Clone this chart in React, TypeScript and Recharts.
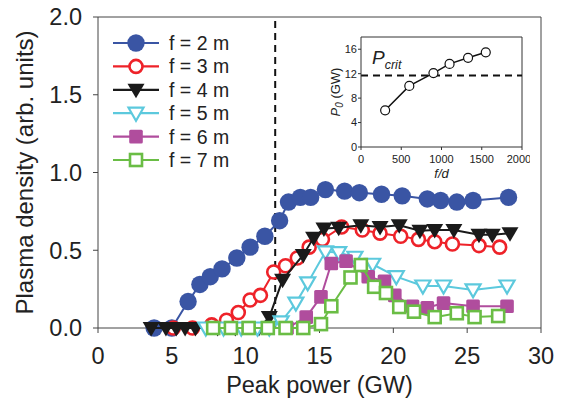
import React from "react";
import {
  ScatterChart,
  Scatter,
  XAxis,
  YAxis,
  ReferenceLine,
  LineChart,
  Line,
} from "recharts";

const FONT = '"Liberation Sans", Arial, Helvetica, sans-serif';
const INK = "#222";

// plasma density vs peak power, one list pair per focal length
const f2X = [3.8, 5.0, 6.1, 6.9, 7.6, 8.4, 9.4, 10.3, 11.3, 12.3, 12.9, 13.7, 14.4, 15.4, 16.7, 17.7, 19.2, 20.6, 22.3, 23.2, 24.3, 25.4, 27.8];
const f2Y = [0, 0, 0.17, 0.28, 0.33, 0.38, 0.45, 0.52, 0.59, 0.69, 0.81, 0.84, 0.84, 0.89, 0.88, 0.87, 0.86, 0.85, 0.83, 0.82, 0.81, 0.82, 0.84];

const f3X = [5.1, 6.4, 7.7, 8.7, 9.5, 10.3, 11.0, 11.9, 12.7, 13.5, 14.3, 15.2, 16.5, 17.9, 19.1, 20.5, 21.7, 22.8, 24.0, 25.8, 27.2];
const f3Y = [0, 0, 0.02, 0.05, 0.1, 0.18, 0.21, 0.36, 0.4, 0.45, 0.52, 0.57, 0.65, 0.63, 0.61, 0.59, 0.57, 0.555, 0.54, 0.53, 0.52];

const f4X = [3.6, 4.6, 5.3, 5.9, 6.6, 8.1, 9.3, 10.9, 11.6, 12.5, 13.9, 14.6, 15.3, 16.3, 17.8, 19.1, 20.4, 21.8, 22.8, 24.1, 25.8, 26.7, 27.9];
const f4Y = [0, 0, 0, 0, 0, 0, 0, 0, 0.07, 0.31, 0.47, 0.58, 0.64, 0.645, 0.66, 0.65, 0.66, 0.625, 0.63, 0.63, 0.6, 0.6, 0.61];

const f5X = [7.3, 8.5, 9.7, 10.8, 11.6, 12.4, 13.4, 14.2, 15.4, 16.3, 17.4, 18.6, 20.2, 22.0, 23.4, 25.4, 27.7];
const f5Y = [0, 0, 0, 0, 0, 0.04, 0.16, 0.29, 0.49, 0.485, 0.455, 0.41, 0.33, 0.27, 0.27, 0.245, 0.27];

const f6X = [10.2, 11.5, 12.8, 14.1, 15.1, 15.8, 16.8, 18.3, 19.4, 20.1, 21.3, 22.3, 23.4, 25.4, 27.7];
const f6Y = [0, 0, 0, 0.07, 0.2, 0.415, 0.43, 0.33, 0.3, 0.21, 0.14, 0.13, 0.16, 0.14, 0.14];

const f7X = [7.8, 9.0, 10.2, 11.5, 12.7, 13.9, 15.1, 15.8, 17.1, 17.8, 18.7, 19.5, 20.4, 21.4, 22.8, 24.3, 25.5, 27.1];
const f7Y = [0, 0, 0, 0, 0, 0, 0.025, 0.14, 0.325, 0.405, 0.265, 0.225, 0.135, 0.105, 0.07, 0.095, 0.07, 0.077];

const xTicks = [0, 5, 10, 15, 20, 25, 30];
const yTicks = [0, 0.5, 1, 1.5, 2];
const pCritPower = 12;

// inset: threshold power vs f/d
const fdVals = [300, 600, 900, 1100, 1330, 1550];
const p0Vals = [6, 10, 12.1, 13.6, 14.6, 15.5];
const pCritInset = 11.7;
const insetXTicks = [0, 500, 1000, 1500, 2000];
const insetYTicks = [0, 4, 8, 12, 16];

const zip = (xs: number[], ys: number[]) => xs.map((x, i) => ({ x, y: ys[i] }));

type Kind = "dot" | "ring" | "tri" | "triOpen" | "sq" | "sqOpen";

const SERIES: { name: string; color: string; kind: Kind; data: { x: number; y: number }[] }[] = [
  { name: "f = 2 m", color: "#3a55a4", kind: "dot", data: zip(f2X, f2Y) },
  { name: "f = 3 m", color: "#ee2229", kind: "ring", data: zip(f3X, f3Y) },
  { name: "f = 4 m", color: "#1a1a1a", kind: "tri", data: zip(f4X, f4Y) },
  { name: "f = 5 m", color: "#5cc9dd", kind: "triOpen", data: zip(f5X, f5Y) },
  { name: "f = 6 m", color: "#b04d9d", kind: "sq", data: zip(f6X, f6Y) },
  { name: "f = 7 m", color: "#6abd45", kind: "sqOpen", data: zip(f7X, f7Y) },
];

function Marker({ kind, color, cx, cy }: { kind: Kind; color: string; cx: number; cy: number }) {
  if (cx == null || cy == null) return null;
  switch (kind) {
    case "dot":
      return <circle cx={cx} cy={cy} r={8.7} fill={color} />;
    case "ring":
      return <circle cx={cx} cy={cy} r={6.5} fill="#fff" stroke={color} strokeWidth={2.6} />;
    case "tri":
      return <path d={`M${cx - 8.5},${cy - 6} L${cx + 8.5},${cy - 6} L${cx},${cy + 8.5} Z`} fill={color} />;
    case "triOpen":
      return (
        <path
          d={`M${cx - 7.5},${cy - 5.5} L${cx + 7.5},${cy - 5.5} L${cx},${cy + 7.5} Z`}
          fill="#fff"
          stroke={color}
          strokeWidth={2.2}
        />
      );
    case "sq":
      return <rect x={cx - 6.8} y={cy - 6.8} width={13.6} height={13.6} rx={1.5} fill={color} />;
    case "sqOpen":
      return (
        <rect x={cx - 6} y={cy - 6} width={12} height={12} fill="#fff" stroke={color} strokeWidth={2.6} />
      );
  }
  return null;
}

function LegendOverlay() {
  return (
    <svg
      width={565}
      height={414}
      style={{ position: "absolute", left: 0, top: 0, pointerEvents: "none" }}
    >
      {SERIES.map((s, i) => {
        const y = 43 + i * 23.4;
        return (
          <g key={s.name}>
            <line x1={113} x2={159} y1={y} y2={y} stroke={s.color} strokeWidth={2.2} />
            <Marker kind={s.kind} color={s.color} cx={136} cy={y} />
            <text x={169} y={y + 7} fontSize={19.5} fill={INK} fontFamily={FONT}>
              {s.name}
            </text>
          </g>
        );
      })}
    </svg>
  );
}

function Inset() {
  const data = fdVals.map((fd, i) => ({ fd, p0: p0Vals[i] }));
  return (
    <div style={{ position: "absolute", left: 300, top: 25 }}>
      <LineChart width={230} height={165} data={data} margin={{ top: 12, right: 8, bottom: 13, left: 31 }}>
        <XAxis
          dataKey="fd"
          type="number"
          domain={[0, 2000]}
          ticks={insetXTicks}
          height={30}
          tickSize={3}
          tickMargin={5}
          stroke="#333"
          tick={{ fontSize: 11, fill: INK, fontFamily: FONT }}
          label={{
            content: ({ viewBox }: any) => (
              <text
                x={viewBox.x + viewBox.width / 2}
                y={viewBox.y + 31}
                textAnchor="middle"
                fontSize={13}
                fontStyle="italic"
                fill={INK}
                fontFamily={FONT}
              >
                f/d
              </text>
            ),
          }}
        />
        <YAxis
          type="number"
          domain={[0, 18]}
          ticks={insetYTicks}
          width={30}
          tickSize={3}
          tickMargin={1}
          stroke="#333"
          tick={{ fontSize: 11, fill: INK, fontFamily: FONT }}
          label={{
            content: ({ viewBox }: any) => {
              const x = viewBox.x + 9;
              const y = viewBox.y + viewBox.height / 2;
              return (
                <text
                  x={x}
                  y={y}
                  transform={`rotate(-90 ${x} ${y})`}
                  textAnchor="middle"
                  fontSize={13}
                  fill={INK}
                  fontFamily={FONT}
                >
                  <tspan fontStyle="italic">P</tspan>
                  <tspan fontStyle="italic" fontSize={10} dy={3}>0</tspan>
                  <tspan dy={-3}> (GW)</tspan>
                </text>
              );
            },
          }}
        />
        <ReferenceLine y={18} stroke="#333" strokeWidth={1} />
        <ReferenceLine x={2000} stroke="#333" strokeWidth={1} />
        <ReferenceLine
          y={pCritInset}
          stroke="#111"
          strokeWidth={2}
          strokeDasharray="7 5"
          label={{
            content: ({ viewBox }: any) => (
              <text x={viewBox.x + 11} y={viewBox.y - 12} fill={INK} fontFamily={FONT} fontStyle="italic">
                <tspan fontSize={19}>P</tspan>
                <tspan fontSize={12.5} dy={5}>crit</tspan>
              </text>
            ),
          }}
        />
        <Line
          dataKey="p0"
          stroke="#111"
          strokeWidth={1.5}
          dot={{ r: 4.5, fill: "#fff", stroke: "#111", strokeWidth: 1.2 }}
          isAnimationActive={false}
        />
      </LineChart>
    </div>
  );
}

export default function App() {
  return (
    <div
      style={{
        position: "absolute",
        left: 0,
        top: 0,
        width: 565,
        height: 414,
        background: "#fff",
        fontFamily: FONT,
      }}
    >
      <ScatterChart width={565} height={414} margin={{ top: 17, right: 24, bottom: 26, left: 0 }}>
        <XAxis
          dataKey="x"
          type="number"
          domain={[0, 30]}
          ticks={xTicks}
          height={60}
          tickSize={5}
          tickMargin={14}
          stroke="#444"
          tick={{ fontSize: 23.5, fill: INK, fontFamily: FONT }}
          label={{
            content: ({ viewBox }: any) => (
              <text
                x={viewBox.x + viewBox.width / 2}
                y={viewBox.y + 65}
                textAnchor="middle"
                fontSize={23.5}
                fill={INK}
                fontFamily={FONT}
              >
                Peak power (GW)
              </text>
            ),
          }}
        />
        <YAxis
          dataKey="y"
          type="number"
          domain={[0, 2]}
          ticks={yTicks}
          width={98}
          tickSize={5}
          tickMargin={11}
          stroke="#444"
          tickFormatter={(v: number) => v.toFixed(1)}
          tick={{ fontSize: 23.5, fill: INK, fontFamily: FONT }}
          label={{
            content: ({ viewBox }: any) => {
              const x = viewBox.x + 33;
              const y = viewBox.y + viewBox.height / 2;
              return (
                <text
                  x={x}
                  y={y}
                  transform={`rotate(-90 ${x} ${y})`}
                  textAnchor="middle"
                  fontSize={24}
                  fill={INK}
                  fontFamily={FONT}
                >
                  Plasma density (arb. units)
                </text>
              );
            },
          }}
        />
        <ReferenceLine y={2} stroke="#444" strokeWidth={1} />
        <ReferenceLine x={30} stroke="#444" strokeWidth={1} />
        <ReferenceLine x={pCritPower} stroke="#111" strokeWidth={2} strokeDasharray="7 5" />
        {SERIES.map((s) => (
          <Scatter
            key={s.name}
            name={s.name}
            data={s.data}
            line={{ stroke: s.color, strokeWidth: 2 }}
            shape={(p: any) => <Marker kind={s.kind} color={s.color} cx={p.cx} cy={p.cy} />}
            isAnimationActive={false}
          />
        ))}
      </ScatterChart>
      <Inset />
      <LegendOverlay />
    </div>
  );
}
